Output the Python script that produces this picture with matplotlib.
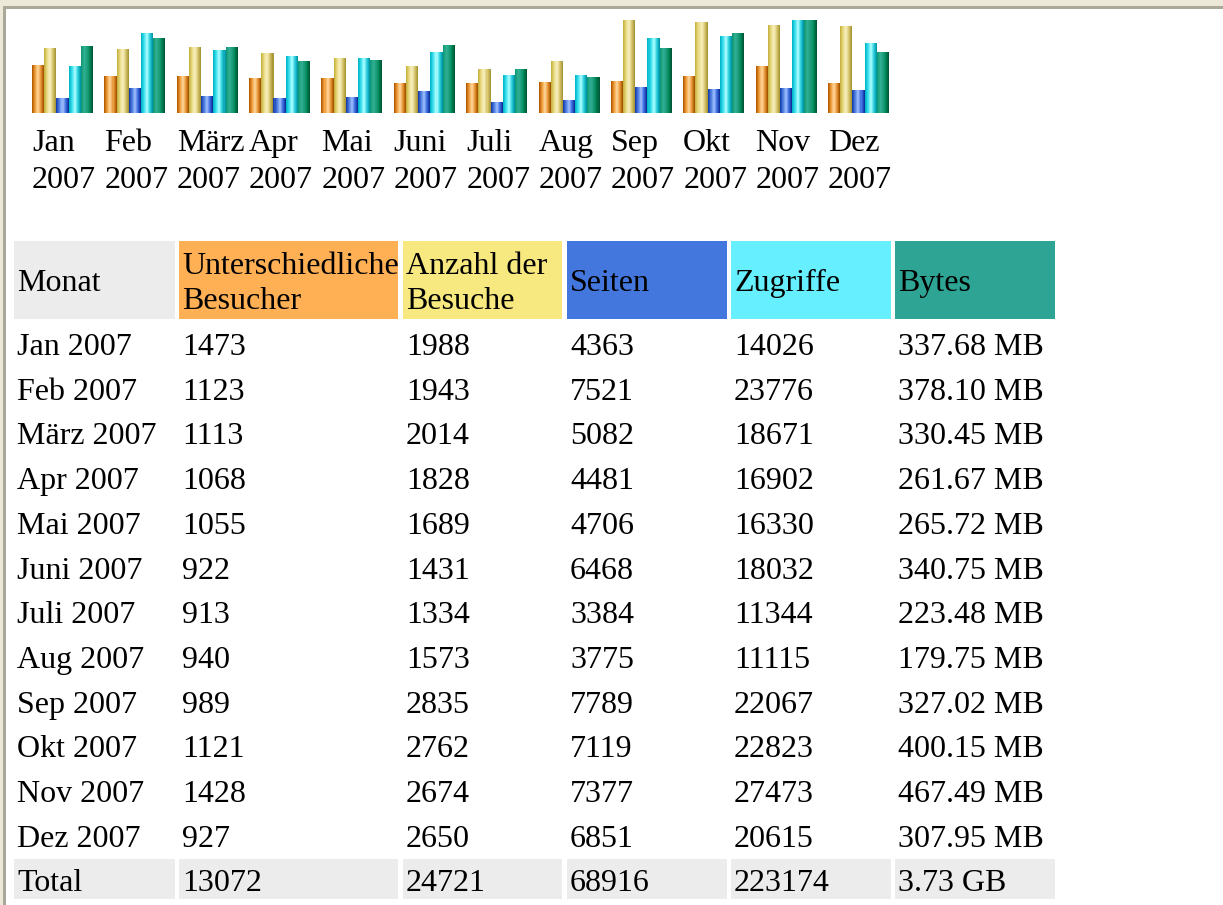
import numpy as np
import matplotlib
matplotlib.use('Agg')
import matplotlib.pyplot as plt
from matplotlib.patches import Rectangle
from matplotlib.colors import LinearSegmentedColormap
from matplotlib import font_manager

names = sorted({f.name for f in font_manager.fontManager.ttflist})
serif = [n for n in names if 'Liberation Serif' in n or 'Times' in n]
plt.rcParams['font.family'] = serif + ['DejaVu Serif']

months = ['Jan', 'Feb', 'März', 'Apr', 'Mai', 'Juni', 'Juli', 'Aug', 'Sep', 'Okt', 'Nov', 'Dez']
year = '2007'
visitors = [1473, 1123, 1113, 1068, 1055, 922, 913, 940, 989, 1121, 1428, 927]
visits = [1988, 1943, 2014, 1828, 1689, 1431, 1334, 1573, 2835, 2762, 2674, 2650]
pages = [4363, 7521, 5082, 4481, 4706, 6468, 3384, 3775, 7789, 7119, 7377, 6851]
hits = [14026, 23776, 18671, 16902, 16330, 18032, 11344, 11115, 22067, 22823, 27473, 20615]
bytes_mb = [337.68, 378.10, 330.45, 261.67, 265.72, 340.75, 223.48, 179.75, 327.02, 400.15, 467.49, 307.95]
totals = ['13072', '24721', '68916', '223174', '3.73 GB']
headers = ['Monat', 'Unterschiedliche\nBesucher', 'Anzahl der\nBesuche', 'Seiten', 'Zugriffe', 'Bytes']
head_colors = ['#ececec', '#ffb055', '#f8e880', '#4477dd', '#66f0ff', '#2ea495']

W, H = 1223, 905
fig = plt.figure(figsize=(W / 100, H / 100), dpi=100)
fig.patch.set_facecolor('white')

# background axes in pixel coordinates
bg = fig.add_axes([0, 0, 1, 1])
bg.set_xlim(0, W)
bg.set_ylim(H, 0)
bg.axis('off')

# window frame
bg.add_patch(Rectangle((0, 0), W, 6.5, color='#ece9d8', lw=0))
bg.add_patch(Rectangle((0, 0), 3, H, color='#ece9d8', lw=0))
bg.add_patch(Rectangle((3, 6.5), W, 3, color='#aca899', lw=0))
bg.add_patch(Rectangle((3, 6.5), 2.5, H, color='#aca899', lw=0))

# bar chart
x0, step, base, top = 32, 72.36, 113, 20
axb = fig.add_axes([x0 / W, 1 - base / H, step * 12 / W, (base - top) / H])
axb.axis('off')

grads = [
    ['#b85c00', '#f0a040', '#ffd8a0', '#e89838', '#a85400'],
    ['#c8b440', '#eadc88', '#f8f0c0', '#d8c870', '#a89838'],
    ['#1840b0', '#5080e0', '#a0c0ff', '#4070e0', '#1030a0'],
    ['#00b8c8', '#40e0f0', '#b0ffff', '#30d0e0', '#0098a8'],
    ['#109878', '#30b090', '#20a080', '#008858', '#005838'],
]
series = [
    [v / max(visits) for v in visitors],
    [v / max(visits) for v in visits],
    [v / max(hits) for v in pages],
    [v / max(hits) for v in hits],
    [v / max(bytes_mb) for v in bytes_mb],
]
bw = 12.2 / step
nsl = 12
for k, vals in enumerate(series):
    cmap = LinearSegmentedColormap.from_list('g%d' % k, grads[k])
    xs = np.arange(12) + k * bw
    for s in range(nsl):
        axb.bar(xs + s * bw / nsl, vals, width=bw / nsl * 1.05, align='edge',
                color=cmap(s / (nsl - 1)), lw=0)
axb.set_xlim(0, 12)
axb.set_ylim(0, 1)

fs = 23
for i, m in enumerate(months):
    xp = x0 + i * step
    bg.text(xp, 151, m, fontsize=fs, va='baseline', ha='left')
    bg.text(xp, 188, year, fontsize=fs, va='baseline', ha='left')

# table
col_x = [14, 179, 403, 567, 731, 895]
col_r = [175, 398, 562, 727, 891, 1055]
for j in range(6):
    bg.add_patch(Rectangle((col_x[j], 241), col_r[j] - col_x[j], 78, color=head_colors[j], lw=0))
    lines = headers[j].split('\n')
    if len(lines) == 1:
        bg.text(col_x[j] + 3, 291, lines[0], fontsize=fs, va='baseline')
    else:
        bg.text(col_x[j] + 3, 274, lines[0], fontsize=fs, va='baseline')
        bg.text(col_x[j] + 3, 309, lines[1], fontsize=fs, va='baseline')

row_step = 44.7
for i, m in enumerate(months):
    yb = 355 + i * row_step
    row = [m + ' ' + year, str(visitors[i]), str(visits[i]), str(pages[i]), str(hits[i]),
           '%.2f MB' % bytes_mb[i]]
    for j, t in enumerate(row):
        bg.text(col_x[j] + 3, yb, t, fontsize=fs, va='baseline')

ty = 355 + 12 * row_step
for j in range(6):
    bg.add_patch(Rectangle((col_x[j], ty - 32), col_r[j] - col_x[j], 40, color='#ececec', lw=0))
for j, t in enumerate(['Total'] + totals):
    bg.text(col_x[j] + 3, ty, t, fontsize=fs, va='baseline')

fig.savefig('out.png', dpi=100)
